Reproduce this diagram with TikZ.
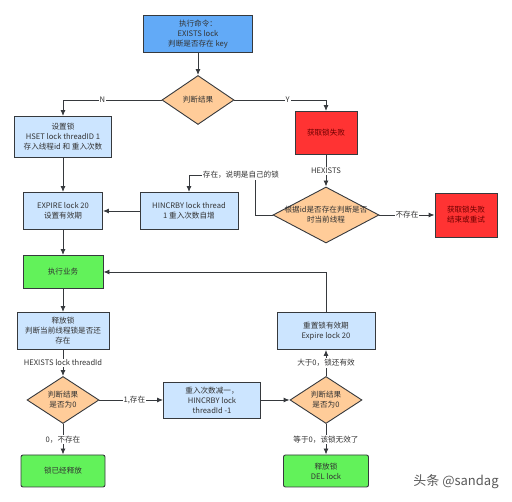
\documentclass[tikz,border=0pt]{standalone}
\usepackage{fontspec}
\setmainfont{Noto Sans CJK SC}
\usetikzlibrary{shapes.geometric,arrows.meta}

\definecolor{cmdblue}{HTML}{62AAF7}
\definecolor{procblue}{HTML}{CCE5FF}
\definecolor{decorange}{HTML}{FFCC99}
\definecolor{failred}{HTML}{FF3333}
\definecolor{failtxt}{HTML}{6E0000}
\definecolor{okgreen}{HTML}{62F25A}
\definecolor{edgegray}{HTML}{36393D}
\definecolor{txtgray}{HTML}{333333}

\tikzset{
  every node/.style={font=\fontsize{7.6}{10}\selectfont, text=txtgray},
  proc/.style={draw=edgegray, line width=0.9pt, fill=procblue, align=center, inner sep=0pt},
  cmdbox/.style={proc, fill=cmdblue},
  failbox/.style={proc, fill=failred, text=failtxt},
  okbox/.style={proc, fill=okgreen, rounded corners=2pt},
  decision/.style={draw=edgegray, line width=0.9pt, fill=decorange, diamond, aspect=1.5,
    align=center, inner sep=0pt},
  flow/.style={draw=edgegray, line width=0.9pt, -{Latex[length=6pt,width=5pt]}},
  edgelbl/.style={fill=white, inner sep=1pt},
}

\begin{document}
\begin{tikzpicture}[x=1pt, y=1pt]
    \useasboundingbox (0,0) rectangle (512,502);

    \node[cmdbox, minimum width=109pt, minimum height=37pt] (cmd) at (198,468) {执行命令：\\EXISTS lock\\判断是否存在 key};
    \node[decision, minimum width=72pt, minimum height=49pt] (res) at (198,402) {判断结果};
    \node[proc, minimum width=97pt, minimum height=41pt] (set) at (63,365) {设置锁\\HSET lock threadID 1\\存入线程id 和 重入次数};
    \node[failbox, minimum width=62pt, minimum height=43pt] (fail) at (326,369) {获取锁失败};
    \node[decision, aspect=1.9, inner sep=-7pt, minimum width=106pt, minimum height=56pt] (chk) at (326,287) {根据id是否存在判断是否\\时当前线程};
    \node[failbox, minimum width=62pt, minimum height=44pt] (retry) at (466,287) {获取锁失败\\结束或重试};
    \node[proc, minimum width=98pt, minimum height=37pt] (incr) at (189,291) {HINCRBY lock thread\\1 重入次数自增};
    \node[proc, minimum width=79pt, minimum height=37pt] (exp) at (63,291) {EXPIRE lock 20\\设置有效期};
    \node[okbox, rounded corners=0pt, minimum width=80pt, minimum height=33pt] (biz) at (63,230) {执行业务};
    \node[proc, minimum width=92pt, minimum height=37pt] (rel) at (63,171) {释放锁\\判断当前线程锁是否还\\存在};
    \node[decision, minimum width=72pt, minimum height=47pt] (isz) at (63,102) {判断结果\\是否为0};
    \node[proc, minimum width=97pt, minimum height=36pt] (decr) at (212,102) {重入次数减一，\\HINCRBY lock\\threadId -1};
    \node[decision, minimum width=72pt, minimum height=47pt] (iszb) at (326,102) {判断结果\\是否为0};
    \node[proc, minimum width=98pt, minimum height=37pt] (reset) at (326,171) {重置锁有效期\\Expire lock 20};
    \node[okbox, minimum width=84pt, minimum height=32pt] (done) at (63,31) {锁已经释放};
    \node[okbox, minimum width=85pt, minimum height=32pt] (del) at (326,31) {释放锁\\DEL lock};
    \node[font=\fontsize{13}{15}\selectfont, text=black!65] (mark) at (456,20) {头条 @sandag};

    \draw[flow] (cmd) -- (res);
    \draw[flow] (res.west) -| node[pos=0.3, edgelbl] {N} (set);
    \draw[flow] (res.east) -| node[pos=0.29, edgelbl] {Y} (fail);
    \draw[flow] (fail) -- node[edgelbl] {HEXISTS} (chk);
    \draw[flow] (chk) -- node[edgelbl] {不存在} (retry);
    \draw[flow] (chk.west) -- ++(-17,0) -- ++(0,40) -| node[pos=0.11, edgelbl] {存在，说明是自己的锁} (incr);
    \draw[flow] (set) -- (exp);
    \draw[flow] (incr) -- (exp);
    \draw[flow] (exp) -- (biz);
    \draw[flow] (reset.north) |- (biz.east);
    \draw[flow] (biz) -- (rel);
    \draw[flow] (rel) -- node[edgelbl] {HEXISTS lock threadId} (isz);
    \draw[flow] (isz) -- node[pos=0.55, edgelbl] {1,存在} (decr);
    \draw[flow] (decr) -- (iszb);
    \draw[flow] (iszb) -- node[edgelbl] {大于0，锁还有效} (reset);
    \draw[flow] (isz) -- node[edgelbl] {0，不存在} (done);
    \draw[flow] (iszb) -- node[edgelbl] {等于0，该锁无效了} (del);
\end{tikzpicture}
\end{document}
